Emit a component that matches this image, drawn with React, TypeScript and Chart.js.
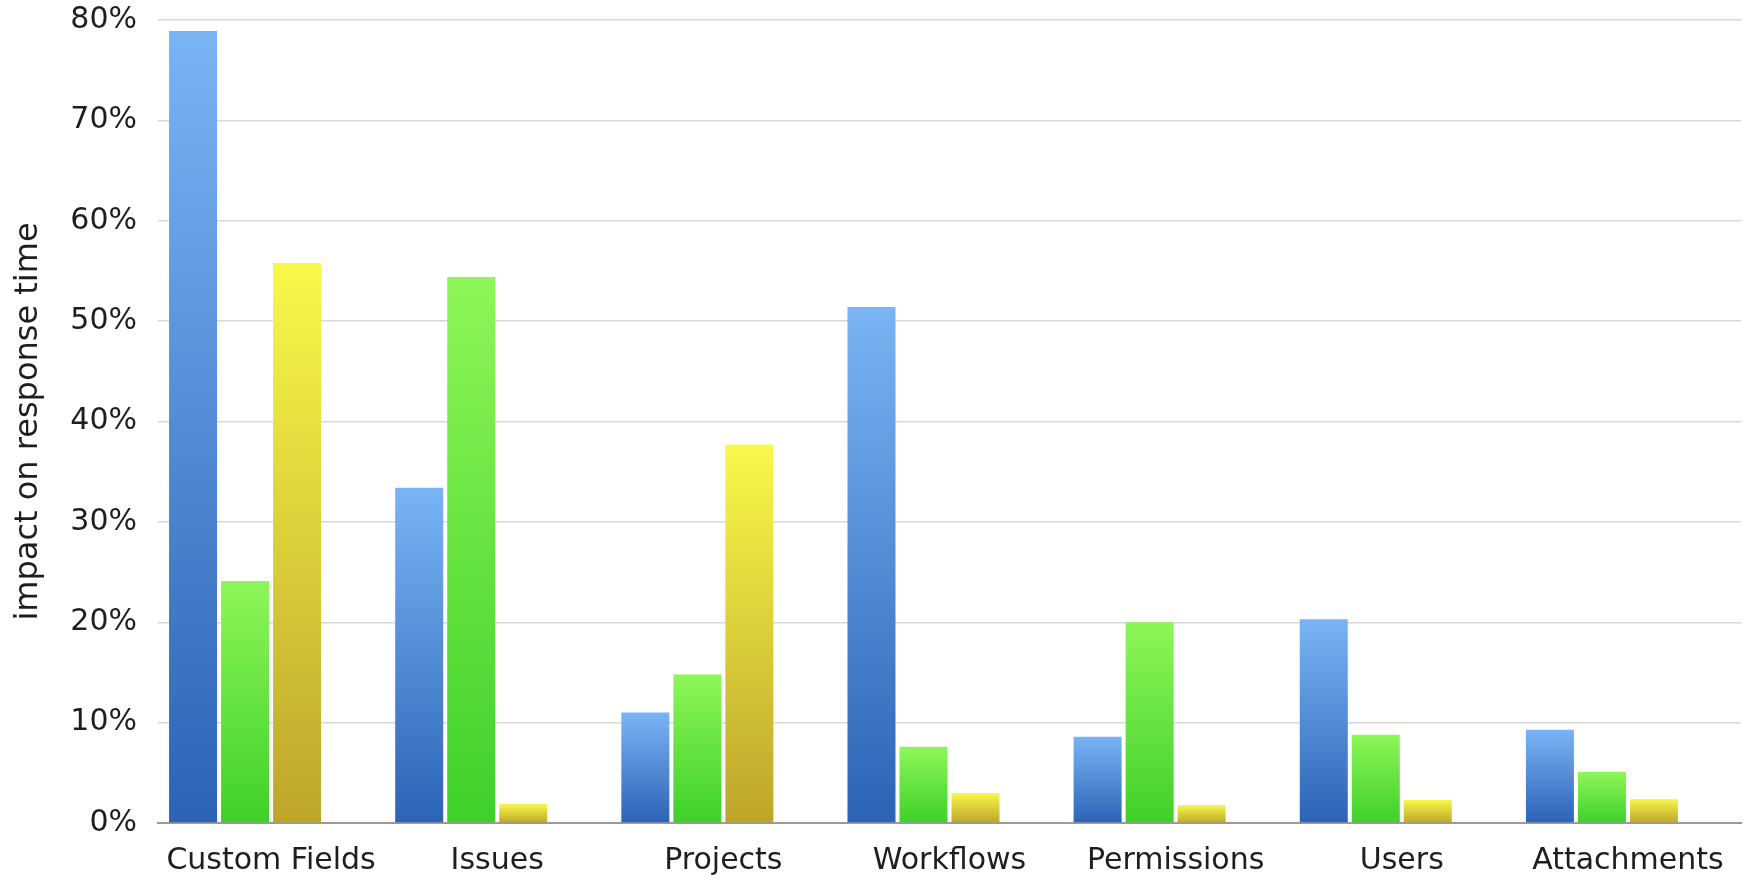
import React, { useEffect, useRef } from "react";
import { Chart, registerables } from "chart.js";

Chart.register(...registerables);

const categories = ["Custom Fields", "Issues", "Projects", "Workflows", "Permissions", "Users", "Attachments"];
const blueValues = [78.9, 33.4, 11.0, 51.4, 8.6, 20.3, 9.3];
const greenValues = [24.1, 54.4, 14.8, 7.6, 20.0, 8.8, 5.1];
const yellowValues = [55.8, 1.9, 37.7, 3.0, 1.8, 2.3, 2.4];
const spacerValues = [null, null, null, null, null, null, null];
const yTicks = [0, 10, 20, 30, 40, 50, 60, 70, 80];
const yTitle = "impact on response time";

const FONT = "'DejaVu Sans', 'Liberation Sans', sans-serif";

function gradientFill(topColor: string, bottomColor: string) {
  return (ctx: any) => {
    const chart = ctx.chart;
    const { chartArea, scales } = chart;
    if (!chartArea || ctx.type !== "data" || ctx.raw == null) return bottomColor;
    const top = scales.y.getPixelForValue(ctx.raw);
    const bottom = scales.y.getPixelForValue(0);
    if (!isFinite(top) || !isFinite(bottom) || top === bottom) return bottomColor;
    const g = chart.ctx.createLinearGradient(0, top, 0, bottom);
    g.addColorStop(0, topColor);
    g.addColorStop(1, bottomColor);
    return g;
  };
}

export default function App() {
  const ref = useRef<HTMLCanvasElement | null>(null);

  useEffect(() => {
    if (!ref.current) return;
    const chart = new Chart(ref.current, {
      type: "bar",
      data: {
        labels: categories,
        datasets: [
          { data: blueValues, backgroundColor: gradientFill("#7ab4f4", "#2c63b6"), borderWidth: 0 },
          { data: greenValues, backgroundColor: gradientFill("#8ef658", "#3fd02a"), borderWidth: 0 },
          { data: yellowValues, backgroundColor: gradientFill("#f8f84a", "#bea52a"), borderWidth: 0 },
          { data: spacerValues as any, backgroundColor: "rgba(0,0,0,0)", borderWidth: 0 },
        ],
      },
      options: {
        responsive: false,
        animation: false,
        events: [],
        layout: { padding: { top: 20, right: 3, left: 0, bottom: 0 } },
        datasets: { bar: { categoryPercentage: 0.92, barPercentage: 0.923 } },
        plugins: { legend: { display: false }, tooltip: { enabled: false }, title: { display: false } },
        scales: {
          x: {
            grid: { display: false, drawTicks: false },
            border: { display: true, color: "#9a9a9a", width: 2 },
            ticks: { color: "#1e1e1e", font: { family: FONT, size: 30 }, padding: 20, maxRotation: 0, autoSkip: false },
            afterFit: (s: any) => { s.height = 57; },
          },
          y: {
            min: 0,
            max: 80,
            afterBuildTicks: (s: any) => { s.ticks = yTicks.map((v) => ({ value: v })); },
            grid: { color: "#d8d8d8", lineWidth: 1.5, drawTicks: false },
            border: { display: false },
            ticks: {
              color: "#1e1e1e",
              font: { family: FONT, size: 30 },
              padding: 21,
              callback: (v: any) => v + "%",
            },
            title: {
              display: true,
              text: yTitle,
              color: "#1e1e1e",
              font: { family: FONT, size: 32 },
              padding: { top: 9, bottom: 0 },
            },
            afterFit: (s: any) => { s.width = 158; s.paddingTop = 0; s.paddingBottom = 0; },
          },
        },
      },
    });
    return () => chart.destroy();
  }, []);

  return (
    <div style={{ position: "fixed", left: 0, top: 0, width: 1744, height: 880, background: "#ffffff" }}>
      <canvas ref={ref} width={1744} height={880} style={{ width: 1744, height: 880, display: "block" }} />
    </div>
  );
}
